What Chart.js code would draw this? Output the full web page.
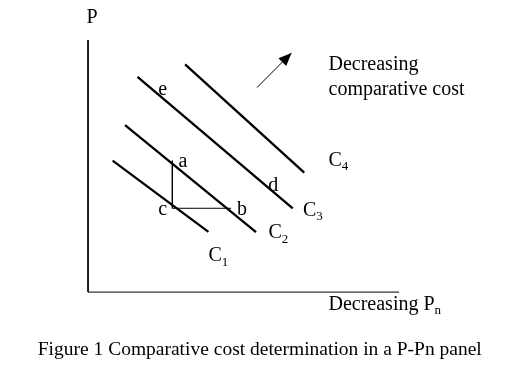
<!DOCTYPE html>
<html>
<head>
<meta charset="utf-8">
<script src="https://cdn.jsdelivr.net/npm/chart.js@4/dist/chart.umd.min.js"></script>
<style>
  html, body { margin: 0; padding: 0; background: #fff; }
  #wrap { width: 508px; height: 374px; }
</style>
</head>
<body>
<div id="wrap"><canvas id="grafico"></canvas></div>
<script>
// cost lines C1..C4 (start / end points in panel units)
const curveNames = ['C1', 'C2', 'C3', 'C4'];
const curveStartX = [0.79, 1.19, 1.59, 3.12];
const curveStartY = [4.17, 5.30, 6.83, 7.23];
const curveEndX = [3.87, 5.40, 6.58, 6.95];
const curveEndY = [1.91, 1.90, 2.66, 3.79];

// triangle a - c - b
const triX = [2.71, 2.71, 4.60];
const triY = [4.17, 2.66, 2.66];

// arrow towards decreasing comparative cost
const arrowX = [5.43, 6.54];
const arrowY = [6.49, 7.59];

// axes lengths
const axisMaxX = 10;
const axisMaxY = 8;

// text labels: [text, subscript, x, y, align]
const labels = [
    ['P', '', 0.13, 8.70, 'center'],
    ['e', '', 2.40, 6.41, 'center'],
    ['a', '', 3.05, 4.13, 'center'],
    ['c', '', 2.40, 2.62, 'center'],
    ['b', '', 4.95, 2.62, 'center'],
    ['d', '', 5.95, 3.37, 'center'],
    ['C', '1', 3.87, 1.14, 'left'],
    ['C', '2', 5.80, 1.87, 'left'],
    ['C', '3', 6.91, 2.58, 'left'],
    ['C', '4', 7.73, 4.17, 'left'],
    ['Decreasing', '', 7.73, 7.21, 'left'],
    ['comparative cost', '', 7.73, 6.43, 'left'],
    ['Decreasing P', 'n', 7.73, -0.41, 'left'],
    ['Figure 1 Comparative cost determination in a P-Pn panel', '', 5.52, -1.84, 'center']
];

const fuente = '"Liberation Serif", "Times New Roman", serif';

const datasets = [];
curveNames.forEach(function(n, i) {
    datasets.push({
        label: n,
        data: [{x: curveStartX[i], y: curveStartY[i]}, {x: curveEndX[i], y: curveEndY[i]}],
        borderColor: '#000',
        borderWidth: 2.3,
        pointRadius: 0
    });
});
datasets.push({
    label: 'acb',
    data: triX.map(function(x, i) { return {x: x, y: triY[i]}; }),
    borderColor: '#000',
    borderWidth: 1,
    pointRadius: 0
});
datasets.push({
    label: 'ejes',
    data: [{x: 0, y: axisMaxY}, {x: 0, y: 0}, {x: axisMaxX, y: 0}],
    borderColor: '#000',
    borderWidth: 1,
    pointRadius: 0
});
datasets.push({
    label: 'flecha',
    data: arrowX.map(function(x, i) { return {x: x, y: arrowY[i]}; }),
    borderColor: '#000',
    borderWidth: 1,
    pointRadius: 0
});

// arrow head + texts
const textos = {
    id: 'textos',
    afterDatasetsDraw: function(chart) {
        const c = chart.ctx;
        const sx = chart.scales.x, sy = chart.scales.y;
        c.save();
        // arrow head
        const x0 = sx.getPixelForValue(arrowX[0]), y0 = sy.getPixelForValue(arrowY[0]);
        const x1 = sx.getPixelForValue(arrowX[1]), y1 = sy.getPixelForValue(arrowY[1]);
        const ang = Math.atan2(y1 - y0, x1 - x0);
        const len = 13, half = 5.5;
        c.fillStyle = '#000';
        c.beginPath();
        c.moveTo(x1, y1);
        c.lineTo(x1 - len * Math.cos(ang) - half * Math.sin(ang), y1 - len * Math.sin(ang) + half * Math.cos(ang));
        c.lineTo(x1 - len * Math.cos(ang) + half * Math.sin(ang), y1 - len * Math.sin(ang) - half * Math.cos(ang));
        c.closePath();
        c.fill();

        c.textBaseline = 'middle';
        labels.forEach(function(l) {
            const px = sx.getPixelForValue(l[2]);
            const py = sy.getPixelForValue(l[3]);
            const size = l[0].length > 30 ? 19.5 : 20;
            c.font = size + 'px ' + fuente;
            c.textAlign = l[4];
            c.fillText(l[0], px, py);
            if (l[1]) {
                const w = c.measureText(l[0]).width;
                c.font = '13px ' + fuente;
                c.textAlign = 'left';
                c.fillText(l[1], px + w, py + 6);
            }
        });
        c.restore();
    }
};

new Chart(document.getElementById('grafico'), {
    type: 'line',
    data: { datasets: datasets },
    options: {
        responsive: true,
        maintainAspectRatio: false,
        animation: false,
        layout: { padding: 0 },
        scales: {
            x: { type: 'linear', display: false, min: -2.83, max: 13.50 },
            y: { type: 'linear', display: false, min: -2.60, max: 9.27 }
        },
        plugins: {
            legend: { display: false },
            tooltip: { enabled: false }
        }
    },
    plugins: [textos]
});
</script>
</body>
</html>
